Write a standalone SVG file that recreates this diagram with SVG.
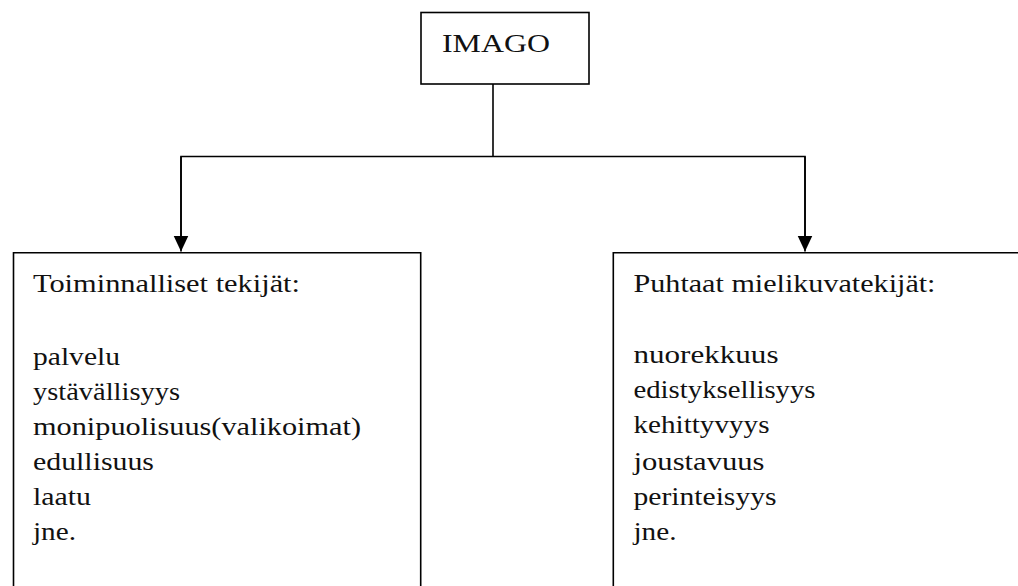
<svg xmlns="http://www.w3.org/2000/svg" width="1018" height="586" viewBox="0 0 1018 586">
<style>
.box{fill:none;stroke:#000;stroke-width:1.6}
.ln{fill:none;stroke:#000;stroke-width:1.6}
text{font-family:"Liberation Serif","Times New Roman",serif;font-size:25px;fill:#111}
</style>
<defs>
<marker id="ah" markerUnits="userSpaceOnUse" markerWidth="16" markerHeight="16" viewBox="0 0 16 16" refX="16" refY="8" orient="auto">
<path d="M0,0.5 L16,8 L0,15.5 Z" fill="#000"/>
</marker>
</defs>
<rect width="1018" height="586" fill="#fff"/>
<g id="imago">
<rect class="box" x="421" y="12.5" width="168" height="71.5"/>
<text x="442" y="52" textLength="108" lengthAdjust="spacingAndGlyphs">IMAGO</text>
</g>
<g id="connectors">
<path class="ln" d="M493,84 V156.5"/>
<path class="ln" d="M181,236 V156.5 H805 V236"/>
<path class="ln" d="M181,156.5 V251.5" marker-end="url(#ah)"/>
<path class="ln" d="M805,156.5 V251.5" marker-end="url(#ah)"/>
</g>
<g id="toiminnalliset">
<path class="box" d="M13.5,586 V252.7 H420.7 V586"/>
<text x="33" y="292" textLength="267" lengthAdjust="spacingAndGlyphs">Toiminnalliset tekijät:</text>
<text x="33" y="365" textLength="87" lengthAdjust="spacingAndGlyphs">palvelu</text>
<text x="33" y="400" textLength="147" lengthAdjust="spacingAndGlyphs">ystävällisyys</text>
<text x="33" y="435" textLength="328" lengthAdjust="spacingAndGlyphs">monipuolisuus(valikoimat)</text>
<text x="33" y="470" textLength="121" lengthAdjust="spacingAndGlyphs">edullisuus</text>
<text x="33" y="505" textLength="58" lengthAdjust="spacingAndGlyphs">laatu</text>
<text x="33" y="540" textLength="43" lengthAdjust="spacingAndGlyphs">jne.</text>
</g>
<g id="puhtaat">
<path class="box" d="M613.3,586 V252.7 H1018"/>
<text x="633.5" y="292" textLength="302" lengthAdjust="spacingAndGlyphs">Puhtaat mielikuvatekijät:</text>
<text x="633.5" y="363" textLength="145" lengthAdjust="spacingAndGlyphs">nuorekkuus</text>
<text x="633.5" y="398" textLength="182" lengthAdjust="spacingAndGlyphs">edistyksellisyys</text>
<text x="633.5" y="433" textLength="136" lengthAdjust="spacingAndGlyphs">kehittyvyys</text>
<text x="633.5" y="470" textLength="131" lengthAdjust="spacingAndGlyphs">joustavuus</text>
<text x="633.5" y="505" textLength="143" lengthAdjust="spacingAndGlyphs">perinteisyys</text>
<text x="633.5" y="540" textLength="43" lengthAdjust="spacingAndGlyphs">jne.</text>
</g>
</svg>
